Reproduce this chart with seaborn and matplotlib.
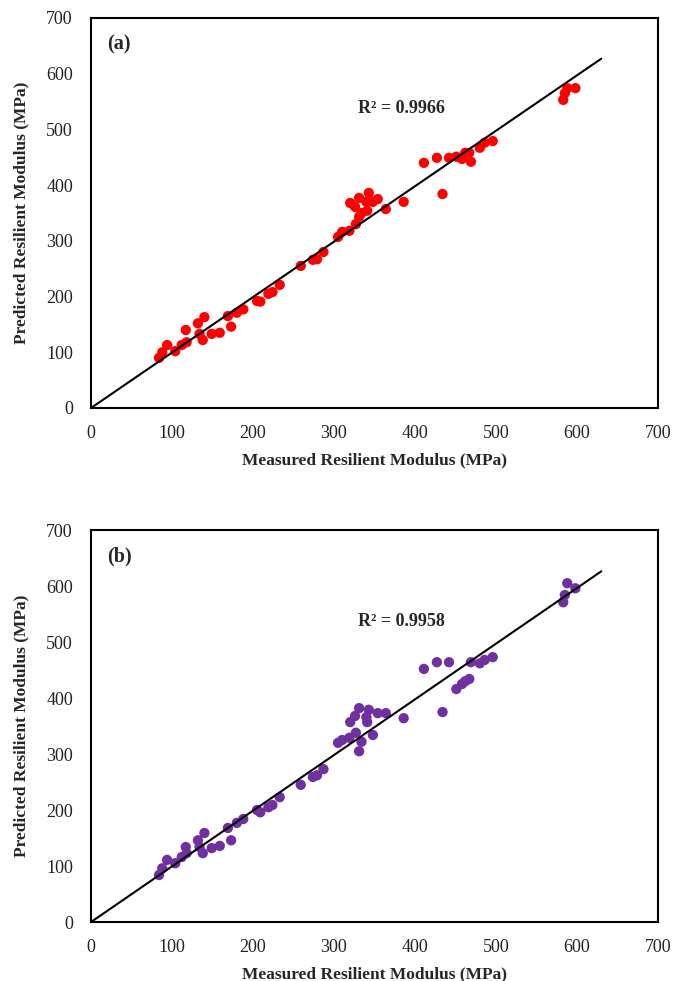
import numpy as np
import pandas as pd
import matplotlib
matplotlib.use("Agg")
import matplotlib.pyplot as plt
import seaborn as sns

measured = [84, 88, 94, 104, 112, 118, 117, 132, 140, 134, 138, 149, 159, 173, 169,
            180, 188, 205, 209, 219, 224, 233, 259, 274, 279, 287, 305, 310, 319, 320,
            326, 327, 331, 334, 331, 340, 341, 343, 348, 354, 364, 386, 411, 427, 434,
            442, 451, 458, 462, 467, 469, 480, 486, 496, 583, 585, 588, 598]
predicted_a = [90, 100, 113, 102, 113, 118, 140, 152, 163, 133, 122, 133, 135, 146, 165,
               171, 177, 192, 191, 205, 208, 221, 255, 266, 267, 280, 307, 316, 318, 368,
               361, 330, 343, 350, 377, 370, 354, 386, 370, 375, 357, 370, 440, 449, 384,
               449, 451, 447, 458, 458, 442, 467, 476, 479, 553, 565, 574, 574]
predicted_b = [84, 96, 111, 105, 116, 123, 134, 146, 159, 134, 123, 132, 136, 146, 168,
               177, 184, 200, 196, 205, 209, 223, 245, 259, 262, 273, 320, 325, 329, 357,
               368, 338, 305, 322, 382, 366, 357, 379, 334, 373, 373, 364, 452, 464, 375,
               464, 416, 425, 430, 434, 464, 462, 468, 473, 571, 584, 605, 596]
panel_labels = ["(a)", "(b)"]
r2_labels = ["R² = 0.9966", "R² = 0.9958"]
colors = ["#FF0000", "#7030A0"]
ticks = [0, 100, 200, 300, 400, 500, 600, 700]
trend_end = 630

sns.set_theme(style="white")
plt.rcParams["font.family"] = ["Liberation Serif", "DejaVu Serif"]

fig = plt.figure(figsize=(6.73, 9.81), dpi=100)
positions = [[0.1352, 0.5841, 0.8425, 0.3976], [0.1352, 0.0601, 0.8425, 0.3996]]

for pos, pred, col, plab, r2 in zip(positions, [predicted_a, predicted_b], colors,
                                     panel_labels, r2_labels):
    ax = fig.add_axes(pos)
    df = pd.DataFrame({"measured": measured, "predicted": pred})
    mx = np.array(measured, float)
    py = np.array(pred, float)
    slope = (mx * py).sum() / (mx * mx).sum()
    line = pd.DataFrame({"x": [0, trend_end], "y": [0, slope * trend_end]})
    sns.lineplot(data=line, x="x", y="y", ax=ax, color="black", linewidth=1.5, zorder=3)
    sns.scatterplot(data=df, x="measured", y="predicted", ax=ax, color=col, s=55,
                    edgecolor="none", zorder=2)
    ax.set_xlim(0, 700)
    ax.set_ylim(0, 700)
    ax.set_xticks(ticks)
    ax.set_yticks(ticks)
    ax.tick_params(axis="both", length=0, labelsize=13, colors="#222222")
    ax.tick_params(axis="x", pad=12)
    ax.tick_params(axis="y", pad=13)
    for s in ax.spines.values():
        s.set_color("black")
        s.set_linewidth(1.5)
    ax.set_xlabel("Measured Resilient Modulus (MPa)", fontsize=12.5, fontweight="bold",
                  labelpad=8)
    ax.set_ylabel("Predicted Resilient Modulus (MPa)", fontsize=12.5, fontweight="bold",
                  labelpad=12)
    ax.text(20, 652, plab, fontsize=14.5, fontweight="bold", va="center", ha="left")
    ax.text(330, 537, r2, fontsize=13, fontweight="bold", va="center", ha="left")

fig.savefig("out.png", dpi=100)
